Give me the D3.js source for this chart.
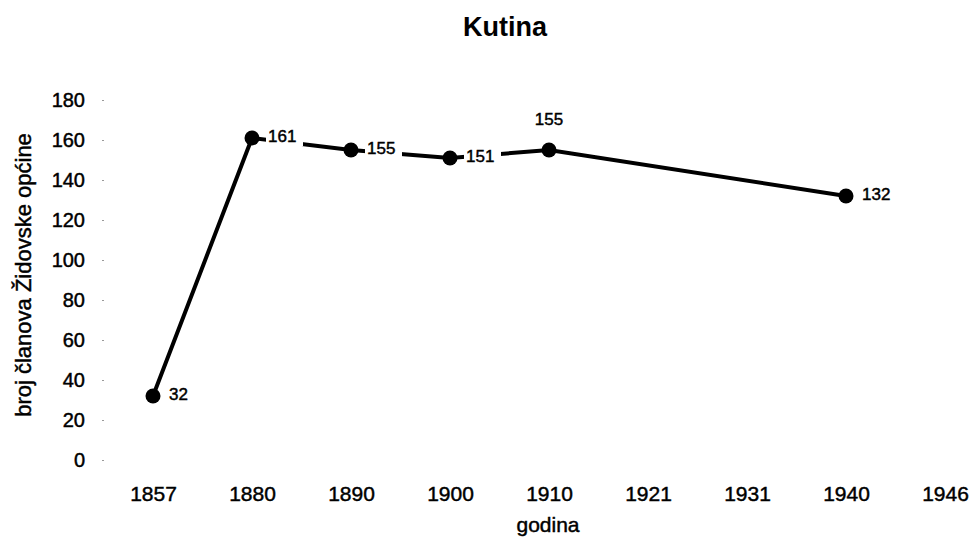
<!DOCTYPE html>
<html>
<head>
<meta charset="utf-8">
<script src="https://cdn.jsdelivr.net/npm/d3@7"></script>
<style>
  body { margin: 0; background: #fff; }
  text { font-family: "Liberation Sans", Arial, sans-serif; fill: #000; }
  .heavy { stroke: #000; stroke-width: 0.45px; }
</style>
</head>
<body>
<svg width="970" height="540"></svg>
<script>
// chart data
var years = ["1857", "1880", "1890", "1900", "1910", "1921", "1931", "1940", "1946"];
var pointYears = ["1857", "1880", "1890", "1900", "1910", "1940"];
var members = [32, 161, 155, 151, 155, 132];
var yTicks = [0, 20, 40, 60, 80, 100, 120, 140, 160, 180];
// where each value label sits relative to its point
var labelPos = ["right", "right", "right", "right", "above", "right"];

var svg = d3.select("svg"),
    width = +svg.attr("width"),
    height = +svg.attr("height");

var data = pointYears.map((y, i) => ({ year: y, value: members[i], pos: labelPos[i] }));

const xScale = d3.scalePoint()
  .domain(years)
  .range([153, 945]);

const yScale = d3.scaleLinear()
  .domain([0, 180])
  .range([460, 100]);

// title
svg.append("text")
  .attr("x", 505)
  .attr("y", 36)
  .attr("text-anchor", "middle")
  .attr("font-size", "27px")
  .attr("font-weight", "bold")
  .text("Kutina");

// y axis
var yAxis = svg.append("g")
  .attr("transform", "translate(104,0)")
  .call(d3.axisLeft(yScale).tickValues(yTicks).tickSize(2).tickPadding(17));
yAxis.select(".domain").remove();
yAxis.selectAll("line").attr("stroke", "#999");
yAxis.selectAll("text")
  .attr("class", "heavy")
  .attr("font-size", "20px")
  .attr("font-family", "Liberation Sans, Arial, sans-serif");

// x axis
var xAxis = svg.append("g")
  .attr("transform", "translate(0,460)")
  .call(d3.axisBottom(xScale).tickSize(0).tickPadding(26));
xAxis.select(".domain").remove();
xAxis.selectAll("text")
  .attr("class", "heavy")
  .attr("font-size", "21px")
  .attr("font-family", "Liberation Sans, Arial, sans-serif");

// axis titles
svg.append("text")
  .attr("class", "heavy")
  .attr("transform", "translate(31,275) rotate(-90)")
  .attr("text-anchor", "middle")
  .attr("font-size", "22px")
  .text("broj članova Židovske općine");

svg.append("text")
  .attr("class", "heavy")
  .attr("x", 548)
  .attr("y", 532)
  .attr("text-anchor", "middle")
  .attr("font-size", "21px")
  .text("godina");

// line
const line = d3.line()
  .x(d => xScale(d.year))
  .y(d => yScale(d.value));

svg.append("path")
  .datum(data)
  .attr("fill", "none")
  .attr("stroke", "#000")
  .attr("stroke-width", 4)
  .attr("d", line);

// value labels with white background
var labels = svg.selectAll("g.lbl")
  .data(data)
  .enter()
  .append("g")
  .attr("class", "lbl")
  .attr("transform", d => {
    var x = xScale(d.year), y = yScale(d.value);
    if (d.pos == "above") return "translate(" + x + "," + (y - 31) + ")";
    return "translate(" + (x + 16) + "," + (y - 2) + ")";
  });

labels.append("rect")
  .attr("x", d => d.pos == "above" ? -18 : -2)
  .attr("y", -10)
  .attr("width", d => String(d.value).length * 10 + 7)
  .attr("height", 20)
  .attr("fill", "#fff");

labels.append("text")
  .attr("class", "heavy")
  .attr("x", 0)
  .attr("dy", "0.36em")
  .attr("text-anchor", d => d.pos == "above" ? "middle" : "start")
  .attr("font-size", "17px")
  .text(d => d.value);

// markers
svg.selectAll("circle")
  .data(data)
  .enter()
  .append("circle")
  .attr("cx", d => xScale(d.year))
  .attr("cy", d => yScale(d.value))
  .attr("r", 7.5)
  .attr("fill", "#000");
</script>
</body>
</html>
